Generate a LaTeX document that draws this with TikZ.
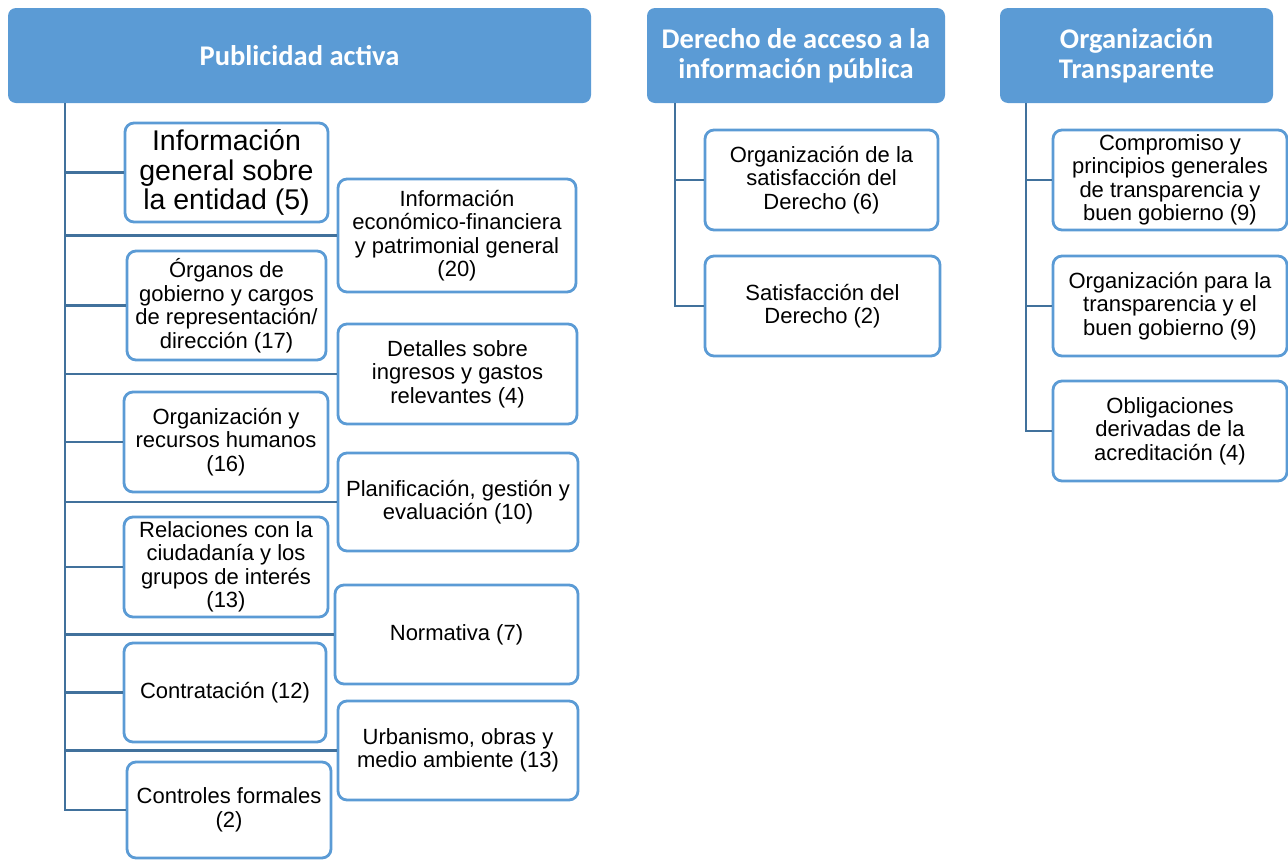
\documentclass[tikz,border=0pt]{standalone}
\usepackage{fontspec}
\setmainfont{Liberation Sans}
\newfontfamily\hdrfont{Carlito}
\definecolor{hdrblue}{HTML}{5B9BD5}
\definecolor{connblue}{HTML}{41719C}
\begin{document}
\begin{tikzpicture}[x=1pt,y=-1pt,
  hdr/.style={fill=hdrblue, draw=none, rounded corners=8pt, text=white, align=center, inner sep=0pt,
     font=\hdrfont\bfseries\fontsize{28.5}{30}\selectfont},
  item/.style={draw=hdrblue, line width=2.8pt, rounded corners=9pt, fill=white, align=center, inner sep=0pt,
     font=\fontsize{22}{23.5}\selectfont},
  bigitem/.style={item, font=\fontsize{28.5}{29.5}\selectfont},
  conn/.style={draw=connblue, line width=2.8pt}]
\useasboundingbox (0,0) rectangle (1288,860);
% helper: box from (x1,y1) to (x2,y2)
\newcommand{\itembox}[6][item]{%
  \node[#1, minimum width={#4-#2}, minimum height={#5-#3}] (#6) at ({(#2+#4)/2},{(#3+#5)/2})}
% headers
\node[hdr, minimum width=583, minimum height=95] (h1) at (299.5,55.5) {Publicidad activa};
\node[hdr, minimum width=298, minimum height=95] (h2) at (796,55.5) {Derecho de acceso a la\\información pública};
\node[hdr, minimum width=273, minimum height=95] (h3) at (1136.5,55.5) {Organización\\Transparente};
% trunk coordinates
\coordinate (t1) at (65,103);
\coordinate (t2) at (675,103);
\coordinate (t3) at (1026,103);
% left column
\itembox[bigitem]{125}{123}{328}{222}{A} {Información\\general sobre\\la entidad (5)};
\itembox{127}{251}{326}{360}{C} {Órganos de\\gobierno y cargos\\de representación/\\dirección (17)};
\itembox{124}{392}{328}{492}{E} {Organización y\\recursos humanos\\(16)};
\itembox{124}{517}{328}{617}{G} {Relaciones con la\\ciudadanía y los\\grupos de interés\\(13)};
\itembox{124}{643}{326}{742}{I} {Contratación (12)};
\itembox{127}{762}{331}{858}{K} {Controles formales\\(2)};
% right column
\itembox{338}{179}{576}{292}{B} {Información\\económico-financiera\\y patrimonial general\\(20)};
\itembox{338}{324}{577}{424}{D} {Detalles sobre\\ingresos y gastos\\relevantes (4)};
\itembox{338}{453}{578}{551}{F} {Planificación, gestión y\\evaluación (10)};
\itembox{335}{585}{578}{684}{H} {Normativa (7)};
\itembox{338}{701}{578}{800}{J} {Urbanismo, obras y\\medio ambiente (13)};
% middle
\itembox{705}{130}{938}{230}{M1} {Organización de la\\satisfacción del\\Derecho (6)};
\itembox{705}{256}{940}{356}{M2} {Satisfacción del\\Derecho (2)};
% right group
\itembox{1053}{130}{1287}{230}{R1} {Compromiso y\\principios generales\\de transparencia y\\buen gobierno (9)};
\itembox{1053}{256}{1287}{356}{R2} {Organización para la\\transparencia y el\\buen gobierno (9)};
\itembox{1053}{381}{1287}{481}{R3} {Obligaciones\\derivadas de la\\acreditación (4)};
% connectors
\draw[conn] (t1) |- (K.west);
\foreach \b in {A,B,C,D,E,F,G,H,I,J}{\draw[conn] (\b.west) -- (\b.west -| t1);}
\draw[conn] (t2) |- (M2.west);
\draw[conn] (M1.west) -- (M1.west -| t2);
\draw[conn] (t3) |- (R3.west);
\draw[conn] (R1.west) -- (R1.west -| t3);
\draw[conn] (R2.west) -- (R2.west -| t3);
\end{tikzpicture}
\end{document}
